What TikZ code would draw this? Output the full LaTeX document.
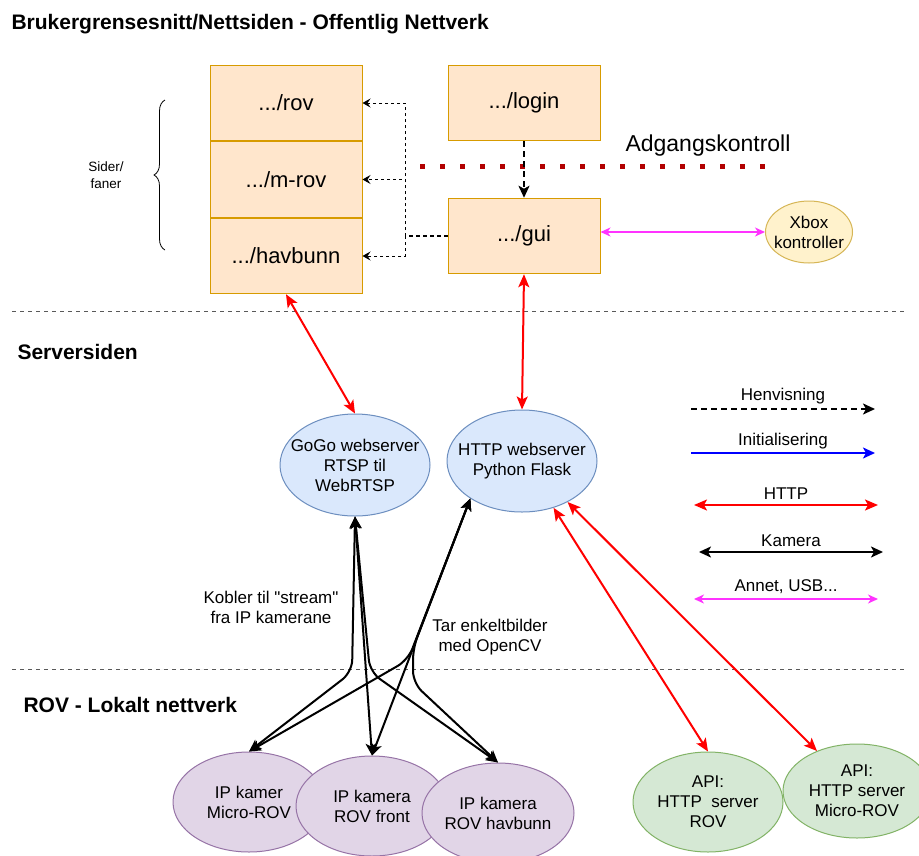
\documentclass[tikz,border=0pt]{standalone}
\usepackage{fontspec}
\setmainfont{Liberation Sans}[Ligatures=TeXOff]
\usetikzlibrary{arrows.meta,positioning,shapes.geometric,calc,decorations.pathreplacing}

\definecolor{pagefill}{HTML}{FFE6CC}
\definecolor{pageline}{HTML}{D79B00}
\definecolor{srvfill}{HTML}{DAE8FC}
\definecolor{srvline}{HTML}{6C8EBF}
\definecolor{camfill}{HTML}{E1D5E7}
\definecolor{camline}{HTML}{9673A6}
\definecolor{apifill}{HTML}{D5E8D4}
\definecolor{apiline}{HTML}{82B366}
\definecolor{padfill}{HTML}{FFF2CC}
\definecolor{padline}{HTML}{D6B656}
\definecolor{adgred}{HTML}{B20000}
\definecolor{usbpink}{HTML}{FF33FF}

\begin{document}
\begin{tikzpicture}[x=1pt,y=-1pt,node distance=0pt,font=\fontsize{17}{20}\selectfont,
    page/.style={draw=pageline,fill=pagefill,rectangle,line width=1pt,minimum width=152pt,minimum height=75.5pt,font=\fontsize{22}{26}\selectfont},
    oval/.style={ellipse,line width=1pt,inner xsep=-14pt,inner ysep=0pt,align=center},
    srv/.style={oval,draw=srvline,fill=srvfill,minimum width=150pt,minimum height=102pt},
    cam/.style={oval,draw=camline,fill=camfill,minimum width=152pt,minimum height=100pt},
    api/.style={oval,draw=apiline,fill=apifill,minimum width=150pt,minimum height=100pt},
    head/.style={anchor=west,font=\bfseries\fontsize{21}{25}\selectfont},
    henv/.style={dash pattern=on 3pt off 3pt,line width=1pt},
    http/.style={red,line width=2pt,{Stealth[length=13pt,width=11pt,inset=3pt]}-{Stealth[length=13pt,width=11pt,inset=3pt]}},
    kam/.style={black,line width=2pt,rounded corners=12pt,{Stealth[length=12pt,width=11pt,inset=3pt]}-{Stealth[length=12pt,width=11pt,inset=3pt]}},
    usb/.style={usbpink,line width=1.5pt,{Stealth[length=10pt,width=9pt,inset=3pt]}-{Stealth[length=10pt,width=9pt,inset=3pt]}}]
  \path[fill=white,use as bounding box] (0,0) rectangle (919,855);

  % overskrifter
  \node[head] (tittel) at (8,24) {Brukergrensesnitt/Nettsiden - Offentlig Nettverk};
  \node[head] (server) at (14,352) {Serversiden};
  \node[head] (lokalt) at (20,705) {ROV - Lokalt nettverk};
  \draw[dash pattern=on 4pt off 4pt,gray!70!black] (12,311) -- (905,311);
  \draw[dash pattern=on 4pt off 4pt,gray!70!black] (12,669) -- (905,669);

  % nettsider
  \node[page] (rov) at (286,103) {.../rov};
  \node[page,below=of rov] (mrov) {.../m-rov};
  \node[page,below=of mrov] (havbunn) {.../havbunn};
  \node[page] (login) at (524,103) {.../login};
  \node[page] (gui) at (524,236) {.../gui};
  \draw[line width=0.8pt,decorate,decoration={brace,amplitude=11pt}] (165,250) -- (165,100);
  \node[align=center,font=\fontsize{13.5}{17}\selectfont] (sider) at (106,175) {Sider/\\faner};

  % adgangskontroll
  \draw[adgred,line width=5pt,dash pattern=on 5pt off 15pt] (420,166) -- (775,166);
  \node[anchor=west,font=\fontsize{23}{27}\selectfont] (adg) at (622,146) {Adgangskontroll};
  \draw[line width=2pt,dash pattern=on 6pt off 4pt,-{Stealth[length=12pt,width=11pt,inset=3pt]}] (login.south) -- (gui.north);

  % henvisninger fra gui
  \coordinate (split) at (405,236);
  \draw[dash pattern=on 4pt off 3pt,line width=2pt] (gui.west) -- (split);
  \draw[henv,-{Stealth[length=8pt,width=9pt,inset=3pt]}] (split) |- (rov.east);
  \draw[henv,-{Stealth[length=8pt,width=9pt,inset=3pt]}] (split) |- (mrov.east);
  \draw[henv,-{Stealth[length=8pt,width=9pt,inset=3pt]}] (split) |- (havbunn.east);

  \node[oval,draw=padline,fill=padfill,minimum width=87pt,minimum height=62pt] (xbox) at (809,232) {Xbox\\kontroller};
  \draw[usb] (gui.east |- xbox.west) -- (xbox.west);

  % servere
  \node[srv] (gogo) at (355,465) {GoGo webserver\\RTSP til\\WebRTSP};
  \node[srv] (flask) at (522,461) {HTTP webserver\\Python Flask};
  \draw[http] (havbunn.south) -- (gogo.north);
  \draw[http] (gui.south) -- (flask.north);

  % kameraer og api
  \node[cam] (cammicro) at (249,802) {IP kamer\\Micro-ROV};
  \node[cam] (camfront) at (372,806) {IP kamera\\ROV front};
  \node[cam] (camhav) at (498,813) {IP kamera\\ROV havbunn};
  \node[api] (apirov) at (708,802) {API:\\HTTP\ \ server\\ROV};
  \node[api,minimum width=148pt,minimum height=94pt] (apimicro) at (857,791) {API:\\HTTP server\\Micro-ROV};
  \draw[http] (flask.-56) -- (apirov.north);
  \draw[http] (flask.-42) -- (apimicro.135);

  \draw[kam] (gogo.south) -- (352,672) -- (cammicro.north);
  \draw[kam] (gogo.south) -- (camfront.north);
  \draw[kam] (gogo.south) -- (370,672) -- (camhav.north);
  \draw[kam] (flask.-144) -- (408,660) -- (cammicro.north);
  \draw[kam] (flask.-144) -- (camfront.north);
  \draw[kam] (flask.-144) -- (413,648) -- (413,683) -- (camhav.north);
  \node[align=center] (kobler) at (271,607) {Kobler til "stream"\\fra IP kamerane};
  \node[align=center] (tar) at (490,637) {Tar enkeltbilder\\med OpenCV};

  % forklaring
  \coordinate (h1) at (691,409); \coordinate (h2) at (875,409);
  \coordinate (i1) at (691,453); \coordinate (i2) at (875,453);
  \coordinate (p1) at (694,505); \coordinate (p2) at (878,505);
  \coordinate (k1) at (699,552); \coordinate (k2) at (883,552);
  \coordinate (u1) at (694,599); \coordinate (u2) at (878,599);
  \draw[line width=2pt,dash pattern=on 6pt off 4pt,-{Stealth[length=12pt,width=11pt,inset=3pt]}] (h1) -- (h2) node[midway,above=1pt] {Henvisning};
  \draw[blue,line width=2pt,-{Stealth[length=12pt,width=11pt,inset=3pt]}] (i1) -- (i2) node[midway,above=0pt,black] {Initialisering};
  \draw[http] (p1) -- (p2) node[midway,above=1pt,black] {HTTP};
  \draw[kam] (k1) -- (k2) node[midway,above=1pt] {Kamera};
  \draw[usb,line width=2pt] (u1) -- (u2) node[midway,above=1pt,black] {Annet, USB...};
\end{tikzpicture}
\end{document}
